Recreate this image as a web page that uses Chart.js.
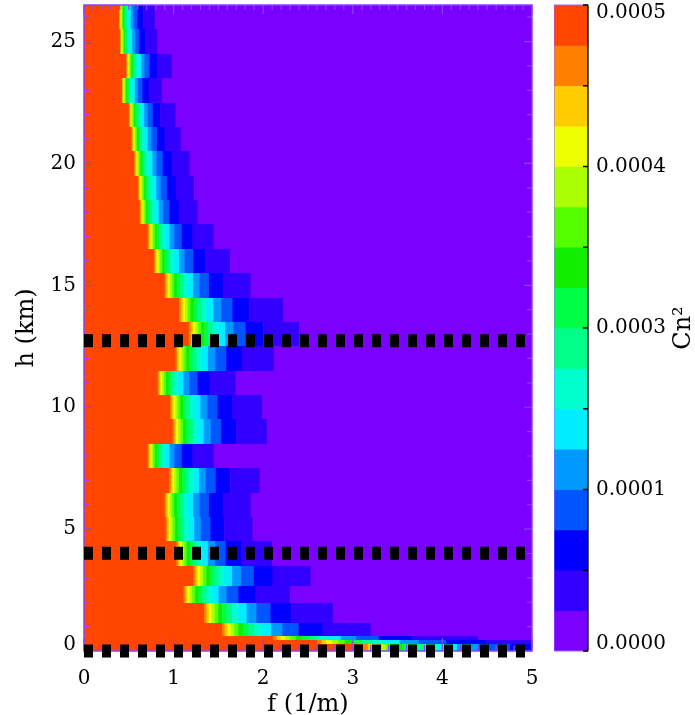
<!DOCTYPE html>
<html>
<head>
<meta charset="utf-8">
<script src="https://cdn.jsdelivr.net/npm/chart.js@4.4.1/dist/chart.umd.min.js"></script>
<style>
html, body { margin: 0; padding: 0; background: #fff; }
#wrap { position: relative; width: 695px; height: 715px; }
#main { position: absolute; left: 0; top: 0; }
#bar { position: absolute; left: 554px; top: 0; }
</style>
</head>
<body>
<div id="wrap">
  <canvas id="main" width="695" height="715"></canvas>
  <canvas id="bar" width="141" height="715"></canvas>
</div>
<script>
// row edges in h (km), top to bottom
const rowEdges = [26.5, 25.5, 24.5, 23.5, 22.5, 21.5, 20.5, 19.5, 18.5, 17.5, 16.5, 15.5, 14.5, 13.5,
  12.5, 11.5, 10.5, 9.5, 8.5, 7.5, 6.5, 5.5, 4.5, 3.5, 2.65, 1.95, 1.15, 0.6, 0.45, 0.29, 0];
// f (1/m) where each row stops being red
const redEnd = [0.39, 0.40, 0.47, 0.42, 0.50, 0.53, 0.56, 0.60, 0.62, 0.71, 0.78, 0.90, 1.06, 1.17,
  1.02, 0.82, 0.96, 0.99, 0.71, 0.95, 0.90, 0.91, 1.03, 1.22, 1.11, 1.34, 1.54, 2.11, 2.60, 3.11];
// f (1/m) where each row turns purple
const purpleStart = [0.79, 0.82, 0.98, 0.87, 1.02, 1.08, 1.18, 1.23, 1.27, 1.45, 1.63, 1.86, 2.22, 2.40,
  2.12, 1.69, 1.99, 2.04, 1.45, 1.96, 1.86, 1.88, 2.10, 2.53, 2.30, 2.78, 3.20, 4.40, 5.40, 6.30];
// where the colour levels sit between red end (0) and purple start (1)
const bandFrac = [0, 0.018, 0.037, 0.058, 0.083, 0.11, 0.14, 0.175, 0.215, 0.265, 0.33, 0.405, 0.515, 0.675, 1];
// colour levels, highest first
const bandColors = ['#ff4500', '#ff8000', '#ffcc00', '#eeff00', '#aaff00', '#55ff00', '#11ee00', '#00ff44',
  '#00ff88', '#00ffcc', '#00eeff', '#0099ff', '#0055ff', '#0000ff', '#3300ff', '#7a00ff'];
const dashLevels = [12.73, 4.01, 0.0];

const xTickValues = [0, 1, 2, 3, 4, 5];
const yTickValues = [0, 5, 10, 15, 20, 25];
const cbBounds = [0, 1, 2, 3, 4, 5, 6, 7, 8, 9, 10, 11, 12, 13, 14, 15, 16];
const cbTickValues = [0, 2, 4, 6, 8, 10, 12, 14, 16];
const cbTickLabels = ['0.0000', '', '0.0001', '', '0.0003', '', '0.0004', '', '0.0005'];

const serif = 'DejaVu Serif';
const frameColor = '#8c42ff';

function noPad(s) {
  s.paddingTop = 0; s.paddingBottom = 0; s.paddingLeft = 0; s.paddingRight = 0;
}

const heatPlugin = {
  id: 'heat',
  beforeDatasetsDraw(chart) {
    const { ctx, chartArea: a, scales: { x, y } } = chart;
    ctx.save();
    ctx.beginPath();
    ctx.rect(a.left, a.top, a.right - a.left, a.bottom - a.top);
    ctx.clip();
    for (let r = 0; r < redEnd.length; r++) {
      const yTop = Math.round(y.getPixelForValue(rowEdges[r]));
      const yBot = Math.round(y.getPixelForValue(rowEdges[r + 1]));
      const edges = [x.min].concat(bandFrac.map(t => redEnd[r] + t * (purpleStart[r] - redEnd[r])));
      edges.push(Math.max(x.max, edges[edges.length - 1]));
      for (let b = 0; b < bandColors.length; b++) {
        const x0 = x.getPixelForValue(edges[b]);
        const x1 = x.getPixelForValue(edges[b + 1]);
        if (x1 <= x0) continue;
        ctx.fillStyle = bandColors[b];
        ctx.fillRect(x0, yTop, x1 - x0 + 0.6, yBot - yTop);
      }
    }
    ctx.restore();

    // frame and inward ticks
    ctx.save();
    ctx.strokeStyle = frameColor;
    ctx.lineWidth = 1.5;
    ctx.strokeRect(a.left, a.top, a.right - a.left, a.bottom - a.top);
    ctx.lineWidth = 1.2;
    ctx.beginPath();
    for (let i = 0; i <= 26; i++) {
      const py = y.getPixelForValue(i);
      const len = i % 5 === 0 ? 8 : 5;
      ctx.moveTo(a.left, py); ctx.lineTo(a.left + len, py);
      ctx.moveTo(a.right, py); ctx.lineTo(a.right - len, py);
    }
    for (let i = 0; i <= 50; i++) {
      const px = x.getPixelForValue(i / 10);
      const major = i % 10 === 0;
      ctx.moveTo(px, a.top); ctx.lineTo(px, a.top + (major ? 9 : 5));
      ctx.moveTo(px, a.bottom); ctx.lineTo(px, a.bottom - (major ? 13 : 6));
    }
    ctx.stroke();
    ctx.restore();
  }
};

new Chart(document.getElementById('main'), {
  type: 'scatter',
  data: {
    datasets: dashLevels.map(h => ({
      data: [{ x: 0, y: h }, { x: 5, y: h }],
      showLine: true,
      borderColor: '#000',
      borderWidth: 13,
      borderDash: [9, 9],
      borderCapStyle: 'butt',
      pointRadius: 0,
      clip: false
    }))
  },
  options: {
    responsive: false,
    animation: false,
    devicePixelRatio: 1,
    layout: { padding: { left: 0, right: 163, top: 5, bottom: 0 } },
    plugins: { legend: { display: false }, tooltip: { enabled: false } },
    scales: {
      x: {
        type: 'linear', min: 0, max: 5,
        afterBuildTicks: s => { s.ticks = xTickValues.map(v => ({ value: v })); },
        afterFit: s => { s.height = 64; noPad(s); },
        grid: { display: false, drawTicks: false },
        border: { display: false },
        ticks: { padding: 16, color: '#000', font: { family: serif, size: 20 } },
        title: { display: true, text: 'f (1/m)', color: '#000', font: { family: serif, size: 24, lineHeight: 0.85 }, padding: { top: 0, bottom: 0 } }
      },
      y: {
        type: 'linear', min: 0, max: 26.5,
        afterBuildTicks: s => { s.ticks = yTickValues.map(v => ({ value: v })); },
        afterFit: s => { s.width = 84; noPad(s); },
        grid: { display: false, drawTicks: false },
        border: { display: false },
        ticks: {
          padding: 8, color: '#000', font: { family: serif, size: 20, lineHeight: 0.65 },
          callback: v => (v === 0 ? ['0', ''] : String(v))
        },
        title: { display: true, text: 'h (km)', color: '#000', font: { family: serif, size: 24 }, padding: { top: 12, bottom: 0 } }
      }
    }
  },
  plugins: [heatPlugin]
});

const barPlugin = {
  id: 'cbframe',
  afterDatasetsDraw(chart) {
    const { ctx, chartArea: a, scales: { y } } = chart;
    ctx.save();
    ctx.strokeStyle = '#9966ff';
    ctx.lineWidth = 1;
    ctx.beginPath();
    ctx.moveTo(a.right, a.top); ctx.lineTo(a.left, a.top); ctx.lineTo(a.left, a.bottom); ctx.lineTo(a.right, a.bottom);
    ctx.stroke();
    ctx.strokeStyle = '#000';
    ctx.lineWidth = 1.3;
    ctx.beginPath();
    ctx.moveTo(a.right, a.top); ctx.lineTo(a.right, a.bottom);
    cbTickValues.forEach(v => {
      const py = y.getPixelForValue(v);
      ctx.moveTo(a.right, py); ctx.lineTo(a.right - 5, py);
    });
    ctx.stroke();
    ctx.fillStyle = '#000';
    ctx.font = '24px "' + serif + '"';
    ctx.textAlign = 'center';
    ctx.textBaseline = 'middle';
    ctx.translate(130, (a.top + a.bottom) / 2);
    ctx.rotate(-Math.PI / 2);
    ctx.fillText('Cn\u00b2', 0, 0);
    ctx.restore();
  }
};

new Chart(document.getElementById('bar'), {
  type: 'bar',
  data: {
    labels: [''],
    datasets: bandColors.map((c, i) => ({
      data: [[cbBounds[15 - i], cbBounds[16 - i]]],
      backgroundColor: c,
      borderWidth: 0,
      grouped: false,
      barPercentage: 1,
      categoryPercentage: 1
    }))
  },
  options: {
    responsive: false,
    animation: false,
    devicePixelRatio: 1,
    layout: { padding: { left: 0, right: 0, top: 5, bottom: 64 } },
    plugins: { legend: { display: false }, tooltip: { enabled: false } },
    scales: {
      x: { display: false },
      y: {
        type: 'linear', position: 'right', min: 0, max: 16,
        afterBuildTicks: s => { s.ticks = cbTickValues.map(v => ({ value: v })); },
        afterFit: s => { s.width = 107; noPad(s); },
        grid: { display: false, drawTicks: false },
        border: { display: false },
        ticks: {
          padding: 8, color: '#000', font: { family: serif, size: 20, lineHeight: 0.75 },
          callback: v => {
            const lab = cbTickLabels[cbTickValues.indexOf(v)];
            if (v === cbTickValues[cbTickValues.length - 1]) return ['', lab];
            if (v === cbTickValues[0]) return [lab, ''];
            return lab;
          }
        }
      }
    }
  },
  plugins: [barPlugin]
});
</script>
</body>
</html>
